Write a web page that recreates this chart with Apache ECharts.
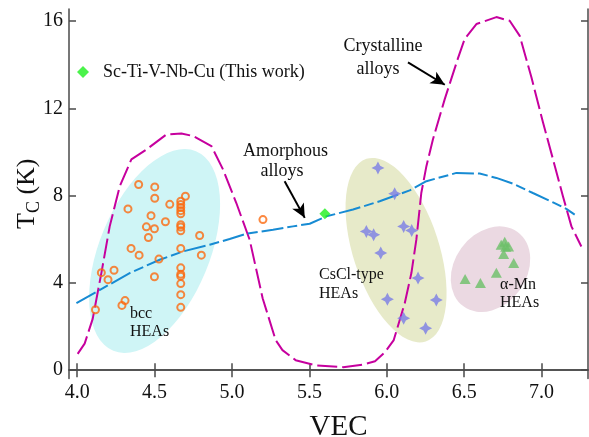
<!DOCTYPE html>
<html><head><meta charset="utf-8">
<script src="https://cdn.jsdelivr.net/npm/echarts@6/dist/echarts.min.js"></script>
<style>html,body{margin:0;padding:0;background:#fff}#c{width:589px;height:437px}</style>
</head><body><div id="c"></div>
<script>
// ---- tick labels ----
const xTicks = [4.0, 4.5, 5.0, 5.5, 6.0, 6.5, 7.0];
const yTicks = [0, 4, 8, 12, 16];

// ---- crystalline alloys curve (magenta) ----
const crystVEC = [4.003,4.048,4.10,4.156,4.21,4.275,4.35,4.447,4.576,4.673,4.748,4.867,4.942,5.028,5.114,5.198,5.282,5.326,5.411,5.543,5.718,5.848,5.924,5.99,6.045,6.116,6.159,6.191,6.223,6.256,6.298,6.374,6.458,6.503,6.579,6.708,6.794,6.859,6.934,7.009,7.074,7.138,7.193,7.257];
const crystTc  = [0.75,1.22,2.35,4.45,6.59,8.43,9.66,10.11,10.80,10.85,10.73,10.27,9.20,7.66,5.98,3.30,1.38,0.92,0.46,0.22,0.14,0.26,0.41,0.84,1.38,3.07,4.45,5.98,8.12,9.35,10.57,12.41,14.25,15.17,15.86,16.18,16.01,15.32,13.43,11.36,9.66,7.97,6.59,5.67];

// ---- amorphous alloys curve (blue) ----
const amorVEC = [3.995,4.167,4.339,4.533,4.683,4.856,4.985,5.093,5.265,5.394,5.502,5.61,5.782,5.954,6.148,6.256,6.45,6.6,6.708,6.815,6.944,7.074,7.16,7.214];
const amorTc  = [3.07,3.76,4.45,5.06,5.44,5.75,6.01,6.25,6.44,6.59,6.71,7.05,7.36,7.74,8.24,8.66,9.04,9.01,8.81,8.55,8.12,7.69,7.39,7.13];

// ---- bcc HEAs ----
const bccVEC = [4.397,4.501,4.501,4.699,4.598,4.669,4.669,4.669,4.669,4.669,4.328,4.477,4.570,4.447,4.499,4.669,4.669,4.669,4.46,4.791,4.348,4.669,4.40,4.802,4.528,4.156,4.238,4.199,4.669,4.669,4.669,4.499,4.669,4.669,4.309,4.289,4.669,4.118,5.20];
const bccTc  = [8.51,8.40,7.88,7.97,7.60,7.74,7.59,7.45,7.31,7.17,7.39,7.08,6.80,6.57,6.48,6.67,6.56,6.39,6.08,6.17,5.58,5.58,5.27,5.27,5.09,4.47,4.58,4.15,4.69,4.40,4.31,4.28,3.97,3.46,3.19,2.97,2.88,2.77,6.90];

// ---- CsCl-type HEAs ----
const csclVEC = [5.943,6.051,5.868,5.915,6.109,6.161,5.961,6.202,6.004,6.32,6.109,6.251];
const csclTc  = [9.27,8.09,6.36,6.21,6.59,6.40,5.37,4.22,3.25,3.22,2.38,1.92];

// ---- alpha-Mn HEAs ----
const amnVEC = [6.762,6.739,6.787,6.768,6.755,6.82,6.708,6.605,6.506];
const amnTc  = [5.89,5.75,5.67,5.66,5.33,4.91,4.46,4.00,4.18];

// ---- this work ----
const thisVEC = [5.6];
const thisTc  = [7.17];

// ---- shaded regions (centres in data units) ----
const regionVEC = [4.50, 6.06, 6.67];
const regionTc  = [5.46, 5.50, 4.63];

// ---- arrows (data units) ----
const arrowFrom = [[6.137, 14.10], [5.340, 8.66]];
const arrowTo   = [[6.375, 13.08], [5.470, 6.98]];

// styles
const F = 'Liberation Serif';
const regionStyle = [
  {a: 108, b: 55, rot: -22.5, color: '#cff5f6'},
  {a: 96,  b: 43, rot: 18,    color: '#e7eac9'},
  {a: 46,  b: 36, rot: -36,   color: '#ebd9e2'}
];
const pair = (xs, ys) => xs.map((x, i) => [x, ys[i]]);
const starPath = 'path://M0,-10 L3.4,-3.4 L10,0 L3.4,3.4 L0,10 L-3.4,3.4 L-10,0 L-3.4,-3.4 Z';

const axisLineStyle = {color: '#4a4a4a', width: 1.5};
const chart = echarts.init(document.getElementById('c'));
const option = {
  animation: false,
  backgroundColor: '#fff',
  grid: {left: 69, right: 1, top: 9, bottom: 58.5, outerBoundsMode: 'none', containLabel: false},
  legend: {
    left: 77, top: 63, padding: 0, itemWidth: 12, itemHeight: 12,
    textStyle: {fontFamily: F, fontSize: 18, color: '#111', padding: [0, 0, 0, 9]},
    data: [{name: 'Sc-Ti-V-Nb-Cu (This work)', icon: 'diamond'}]
  },
  xAxis: [{
    type: 'value', min: 3.947, max: 7.3,
    name: 'VEC', nameLocation: 'middle', nameGap: 34, nameMoveOverlap: false,
    nameTextStyle: {fontFamily: F, fontSize: 29, color: '#111', padding: [0, 0, 0, 20]},
    axisLine: {lineStyle: axisLineStyle},
    axisTick: {inside: true, length: 7, lineStyle: axisLineStyle, customValues: xTicks},
    axisLabel: {customValues: xTicks, fontFamily: F, fontSize: 20, color: '#111', margin: 4,
      formatter: v => v.toFixed(1)},
    splitLine: {show: false}
  }, {
    type: 'value', min: 3.947, max: 7.3, position: 'top',
    axisLine: {lineStyle: axisLineStyle},
    axisTick: {inside: true, length: 7, lineStyle: axisLineStyle, customValues: xTicks},
    axisLabel: {show: false}, splitLine: {show: false}
  }],
  yAxis: [{
    type: 'value', min: -0.38, max: 16.55,
    name: '{t|T}{s|C}{t| (K)}', nameLocation: 'middle', nameGap: 25, nameMoveOverlap: false,
    nameTextStyle: {color: '#111', rich: {
      t: {fontFamily: F, fontSize: 26, lineHeight: 34, color: '#111'},
      s: {fontFamily: F, fontSize: 18, lineHeight: 18, padding: [14, 0, 0, 0], color: '#111'}
    }},
    axisLine: {lineStyle: axisLineStyle},
    axisTick: {inside: true, length: 7, lineStyle: axisLineStyle, customValues: yTicks},
    axisLabel: {customValues: yTicks, fontFamily: F, fontSize: 20, color: '#111', margin: 6},
    splitLine: {show: false}
  }, {
    type: 'value', min: -0.38, max: 16.55, position: 'right',
    axisLine: {lineStyle: axisLineStyle},
    axisTick: {inside: true, length: 7, lineStyle: axisLineStyle, customValues: yTicks},
    axisLabel: {show: false}, splitLine: {show: false}
  }],
  series: [
    {
      type: 'custom', name: 'regions', z: 1, silent: true,
      data: pair(regionVEC, regionTc),
      renderItem: (params, api) => {
        const s = regionStyle[params.dataIndex];
        const c = api.coord([api.value(0), api.value(1)]);
        return {type: 'circle', x: c[0], y: c[1], scaleX: s.b, scaleY: s.a,
          rotation: s.rot * Math.PI / 180, shape: {cx: 0, cy: 0, r: 1},
          style: {fill: s.color, stroke: null}};
      }
    },
    {
      type: 'line', name: 'Crystalline alloys', z: 3, symbol: 'none',
      data: pair(crystVEC, crystTc),
      lineStyle: {color: '#c6009e', width: 2, type: [20, 5]}
    },
    {
      type: 'line', name: 'Amorphous alloys', z: 3, symbol: 'none',
      data: pair(amorVEC, amorTc),
      lineStyle: {color: '#178bd3', width: 2, type: [22, 4, 10, 4]}
    },
    {
      type: 'scatter', name: 'bcc HEAs', z: 4, symbol: 'circle', symbolSize: 7,
      data: pair(bccVEC, bccTc),
      itemStyle: {color: 'rgba(0,0,0,0)', borderColor: '#fb6a10', borderWidth: 2}
    },
    {
      type: 'scatter', name: 'CsCl-type HEAs', z: 4, symbol: starPath, symbolSize: 13,
      data: pair(csclVEC, csclTc), itemStyle: {color: '#7a7de6'}
    },
    {
      type: 'scatter', name: 'alpha-Mn HEAs', z: 4, symbol: 'triangle', symbolSize: [11, 10],
      data: pair(amnVEC, amnTc), itemStyle: {color: '#6cbf68'}
    },
    {
      type: 'scatter', name: 'Sc-Ti-V-Nb-Cu (This work)', z: 5, symbol: 'diamond', symbolSize: 11,
      data: pair(thisVEC, thisTc), itemStyle: {color: '#1ef01e'}
    },
    {
      type: 'line', name: 'arrows', z: 6, data: [], silent: true,
      markLine: {
        silent: true, animation: false,
        symbol: ['none', 'arrow'], symbolSize: [10, 14],
        lineStyle: {color: '#000', width: 2, type: 'solid'},
        label: {show: false},
        data: arrowFrom.map((f, i) => [{coord: f}, {coord: arrowTo[i]}])
      }
    }
  ],
  graphic: [
    ['Crystalline', 383, 46.7, 'center', 18],
    ['alloys', 378, 69, 'center', 18],
    ['Amorphous', 285.5, 151.7, 'center', 18],
    ['alloys', 282, 171.7, 'center', 18],
    ['bcc', 130, 313.3, 'left', 16],
    ['HEAs', 130, 332, 'left', 16],
    ['CsCl-type', 319, 274.3, 'left', 16],
    ['HEAs', 319, 293.3, 'left', 16],
    ['\u03b1-Mn', 500, 285, 'left', 16],
    ['HEAs', 500, 302.5, 'left', 16]
  ].map(t => ({
    type: 'text', x: t[1], y: t[2], z: 10,
    style: {text: t[0], fill: '#111', font: t[4] + 'px "' + F + '"', align: t[3], verticalAlign: 'middle'}
  }))
};
chart.setOption(option);
</script>
</body></html>
